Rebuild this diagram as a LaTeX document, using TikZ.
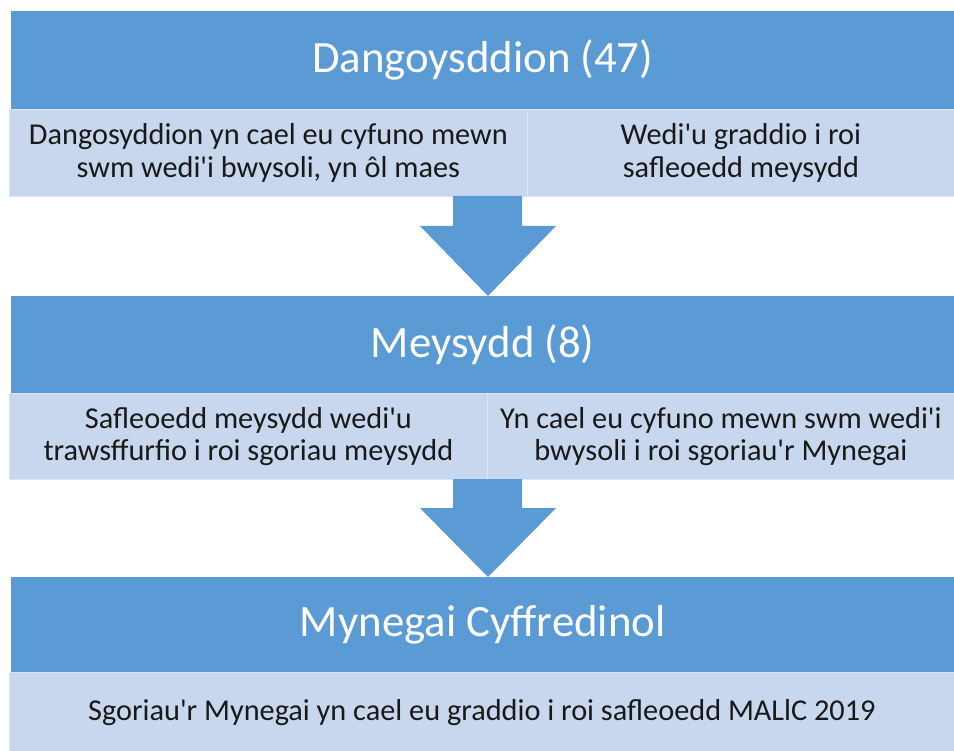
\documentclass[tikz,border=0pt]{standalone}
\usepackage{fontspec}
\setmainfont{Carlito}[Ligatures=TeXOff]
\definecolor{dblue}{HTML}{5B9BD5}
\definecolor{lblue}{HTML}{C8D7ED}
\definecolor{edgeline}{HTML}{DCE6F4}
\begin{document}
\begin{tikzpicture}[x=1pt,y=-1pt,
  bar/.style={fill=dblue, draw=none, anchor=north west, inner sep=0pt, text=white,
    font=\fontsize{44.8}{52}\selectfont},
  cell/.style={fill=lblue, draw=edgeline, line width=0.8pt, anchor=north west, inner sep=0pt,
    text=black!90, align=center, font=\fontsize{30.3}{32.5}\selectfont},
  blockarrow/.style={fill=dblue, draw=none}]
\useasboundingbox (0,0) rectangle (954,751);
% row 1
\node[bar, minimum width=943pt, minimum height=98pt] (t1) at (11,11) {Dangoysddion (47)};
\node[cell, minimum width=518pt, minimum height=87pt] (c1a) at (9,109)
  {Dangosyddion yn cael eu cyfuno mewn\\swm wedi'i bwysoli, yn ôl maes};
\node[cell, minimum width=427pt, minimum height=87pt] (c1b) at (527,109)
  {Wedi'u graddio i roi\\safleoedd meysydd};
% row 2
\node[bar, minimum width=943pt, minimum height=97pt] (t2) at (11,296) {Meysydd (8)};
\node[cell, minimum width=478pt, minimum height=86pt] (c2a) at (9,393)
  {Safleoedd meysydd wedi'u\\trawsffurfio i roi sgoriau meysydd};
\node[cell, minimum width=467pt, minimum height=86pt] (c2b) at (487,393)
  {Yn cael eu cyfuno mewn swm wedi'i\\bwysoli i roi sgoriau'r Mynegai};
% row 3
\node[bar, minimum width=943pt, minimum height=95pt] (t3) at (11,577) {Mynegai Cyffredinol};
\node[cell, minimum width=945pt, minimum height=80pt] (c3) at (9,672)
  {Sgoriau'r Mynegai yn cael eu graddio i roi safleoedd MALlC 2019};
% block arrows
\fill[blockarrow] (453,196) -- (522,196) -- (522,226) -- (556,226) -- (488,296)
  -- (420,226) -- (453,226) -- cycle;
\fill[blockarrow] (453,479) -- (522,479) -- (522,508) -- (556,508) -- (488,577)
  -- (420,508) -- (453,508) -- cycle;
\end{tikzpicture}
\end{document}
